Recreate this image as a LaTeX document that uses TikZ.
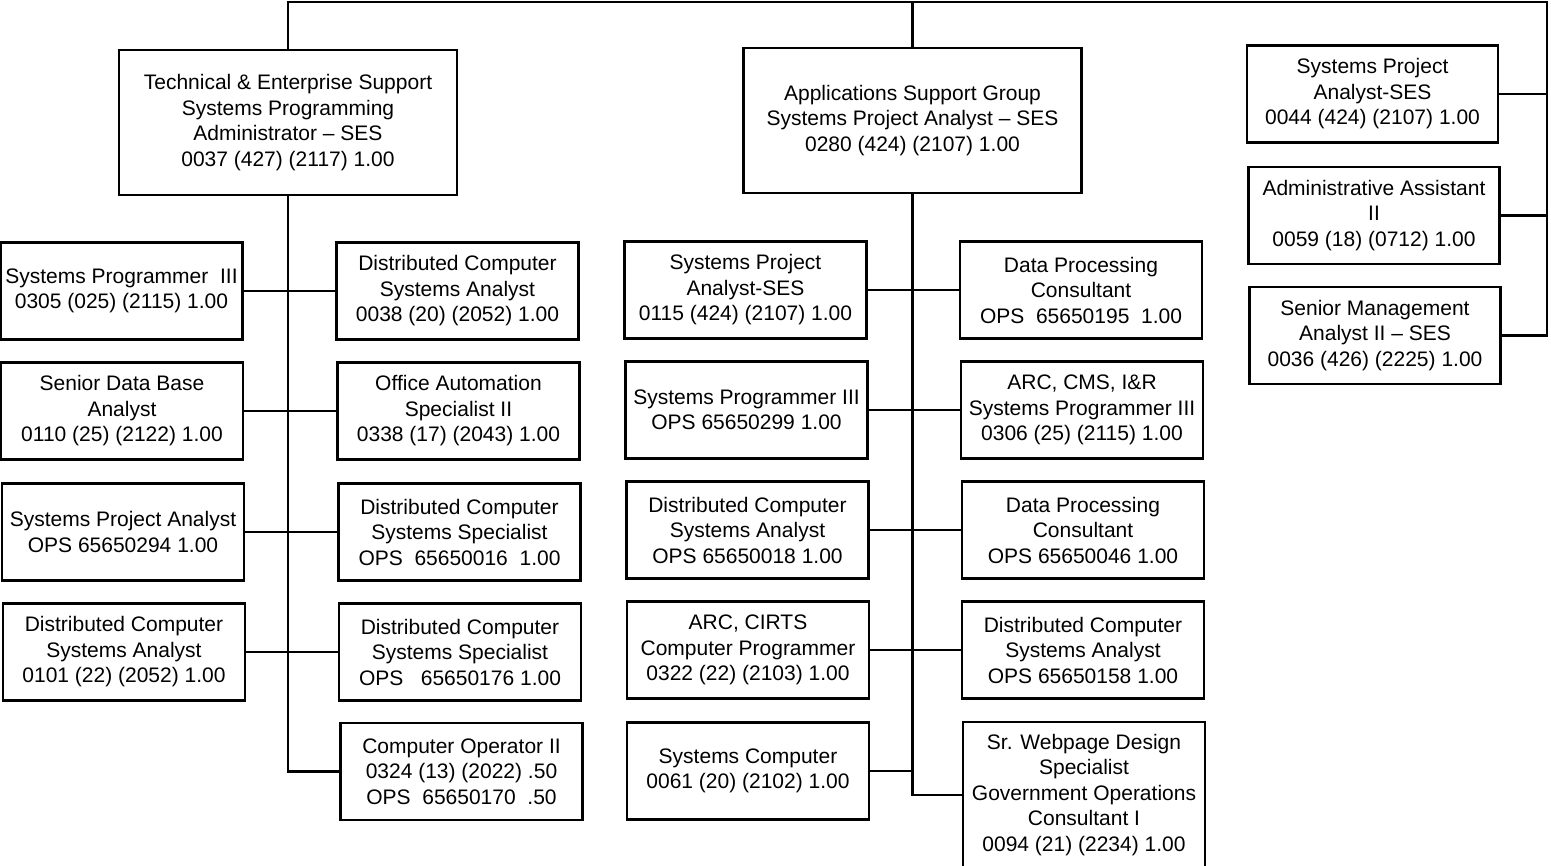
\documentclass[tikz,border=0pt]{standalone}
\usepackage{fontspec}
\setmainfont{Liberation Sans}
\begin{document}
\begin{tikzpicture}[x=1pt,y=-1pt,
  box/.style={draw, line width=2.5pt, align=center, inner sep=1pt,
    font=\fontsize{21}{25.5}\selectfont, minimum width=242pt, minimum height=97pt},
  headbox/.style={box, minimum width=338pt, minimum height=145pt},
  sidebox/.style={box, minimum width=251pt, minimum height=97pt},
  link/.style={line width=2.5pt}]
\useasboundingbox (0,0) rectangle (1551,866);

% heads
\node[headbox] (A) at (288,122.5) {Technical \& Enterprise Support\\Systems Programming\\Administrator -- SES\\0037 (427) (2117) 1.00};
\node[headbox] (B) at (912.5,120.5) {Applications Support Group\\Systems Project Analyst -- SES\\0280 (424) (2107) 1.00};

% staff at right
\node[sidebox] (R1) at (1372.5,94) {Systems Project\\Analyst-SES\\0044 (424) (2107) 1.00};
\node[sidebox] (R2) at (1374,215.5) {Administrative Assistant\\II\\0059 (18) (0712) 1.00};
\node[sidebox] (R3) at (1375,335.5) {Senior Management\\Analyst II -- SES\\0036 (426) (2225) 1.00};

% technical group, left column
\node[box] (L1) at (121.5,291) {Systems Programmer~ III\\0305 (025) (2115) 1.00};
\node[box] (L2) at (122,411) {Senior Data Base\\Analyst\\0110 (25) (2122) 1.00};
\node[box] (L3) at (123,532) {Systems Project Analyst\\OPS 65650294 1.00};
\node[box] (L4) at (124,652) {Distributed Computer\\Systems Analyst\\0101 (22) (2052) 1.00};
% technical group, right column
\node[box] (M1) at (457.5,291) {Distributed Computer\\Systems Analyst\\0038 (20) (2052) 1.00};
\node[box] (M2) at (458.5,411) {Office Automation\\Specialist II\\0338 (17) (2043) 1.00};
\node[box] (M3) at (459.5,532) {Distributed Computer\\Systems Specialist\\OPS~ 65650016~ 1.00};
\node[box] (M4) at (460,652) {Distributed Computer\\Systems Specialist\\OPS~~ 65650176 1.00};
\node[box] (M5) at (461.5,771.5) {Computer Operator II\\0324 (13) (2022) .50\\OPS~ 65650170~ .50};

% applications group, left column
\node[box] (C1) at (745.5,290) {Systems Project\\Analyst-SES\\0115 (424) (2107) 1.00};
\node[box] (C2) at (746.5,410) {Systems Programmer III\\OPS 65650299 1.00};
\node[box] (C3) at (747.5,530) {Distributed Computer\\Systems Analyst\\OPS 65650018 1.00};
\node[box] (C4) at (748,650) {ARC, CIRTS\\Computer Programmer\\0322 (22) (2103) 1.00};
\node[box] (C5) at (748,771) {Systems Computer\\0061 (20) (2102) 1.00};
% applications group, right column
\node[box] (D1) at (1081,290) {Data Processing\\Consultant\\OPS~ 65650195~ 1.00};
\node[box] (D2) at (1082,410) {ARC, CMS, I\&R\\Systems Programmer III\\0306 (25) (2115) 1.00};
\node[box] (D3) at (1083,530) {Data Processing\\Consultant\\OPS 65650046 1.00};
\node[box] (D4) at (1083,650) {Distributed Computer\\Systems Analyst\\OPS 65650158 1.00};
\node[box, minimum height=146pt] (D5) at (1084,795) {Sr. Webpage Design\\Specialist\\Government Operations\\Consultant I\\0094 (21) (2234) 1.00};

% top bar and right riser
\coordinate (tr) at (1547,2);
\draw[link] (A.north) |- (tr) |- (R3.east);
\draw[link] (B.north) -- (B.north |- tr);
\draw[link] (R1.east) -- (R1.east -| tr);
\draw[link] (R2.east) -- (R2.east -| tr);

% technical group
\draw[link] (A.south) -- (A.south |- M5.west) -- (M5.west);
\draw[link] (L1.east) -- (M1.west);
\draw[link] (L2.east) -- (M2.west);
\draw[link] (L3.east) -- (M3.west);
\draw[link] (L4.east) -- (M4.west);

% applications group
\draw[link] (B.south) -- (B.south |- D5.west) -- (D5.west);
\draw[link] (C1.east) -- (D1.west);
\draw[link] (C2.east) -- (D2.west);
\draw[link] (C3.east) -- (D3.west);
\draw[link] (C4.east) -- (D4.west);
\draw[link] (C5.east) -- (C5.east -| B.south);
\end{tikzpicture}
\end{document}
